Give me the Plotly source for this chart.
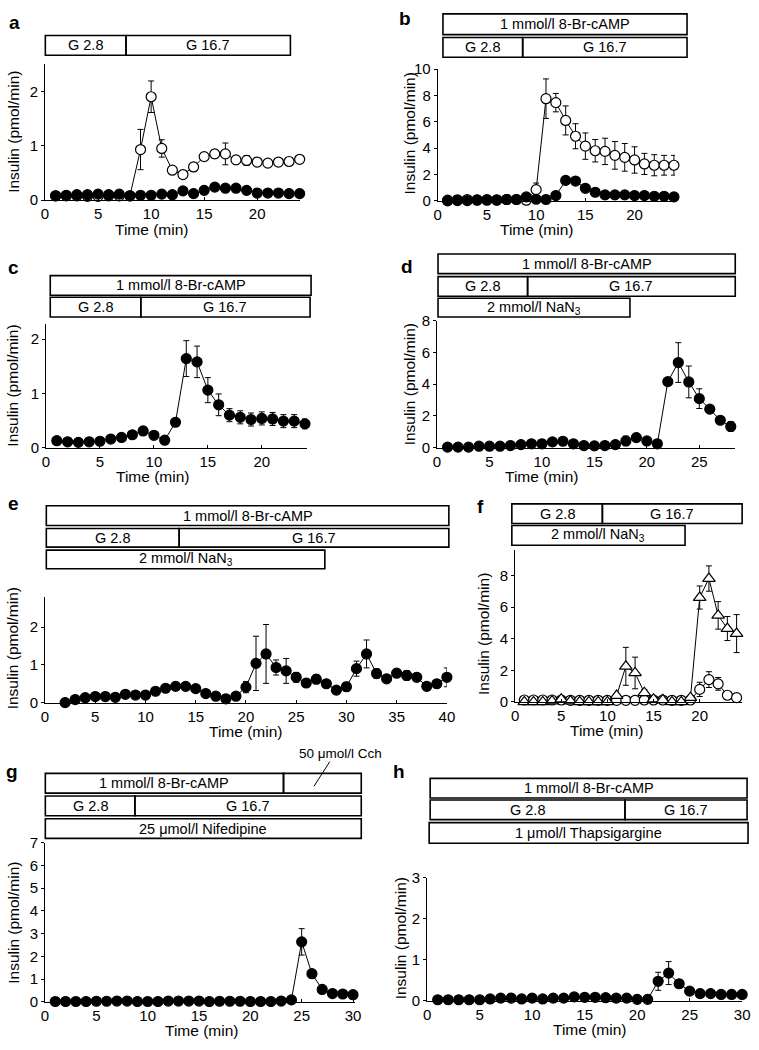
import plotly.graph_objects as go

W, H = 759, 1050
FONT = "Liberation Sans, Arial, Helvetica, sans-serif"

# ---------------- data ----------------
a_time = [1, 2, 3, 4, 5, 6, 7, 8, 9, 10, 11, 12, 13, 14, 15, 16, 17, 18, 19, 20, 21, 22, 23, 24]
a_open = [0.08, 0.08, 0.08, 0.07, 0.07, 0.08, 0.08, 0.08, 0.93, 1.90, 0.95, 0.55, 0.47, 0.61, 0.80, 0.85, 0.85, 0.74, 0.73, 0.70, 0.68, 0.70, 0.71, 0.75]
a_open_err = [0.01, 0.01, 0.01, 0.01, 0.01, 0.01, 0.01, 0.01, 0.37, 0.29, 0.16, 0.05, 0.04, 0.08, 0.06, 0.08, 0.20, 0.08, 0.09, 0.07, 0.05, 0.04, 0.03, 0.03]
a_filled = [0.08, 0.09, 0.10, 0.10, 0.11, 0.10, 0.11, 0.08, 0.09, 0.09, 0.11, 0.10, 0.17, 0.12, 0.18, 0.24, 0.22, 0.22, 0.18, 0.13, 0.13, 0.13, 0.12, 0.12]
a_filled_err = [0.02, 0.02, 0.02, 0.03, 0.03, 0.02, 0.02, 0.02, 0.02, 0.02, 0.02, 0.02, 0.03, 0.02, 0.05, 0.06, 0.06, 0.06, 0.03, 0.02, 0.02, 0.02, 0.02, 0.02]

b_time = [1, 2, 3, 4, 5, 6, 7, 8, 9, 10, 11, 12, 13, 14, 15, 16, 17, 18, 19, 20, 21, 22, 23, 24]
b_open = [0.05, 0.08, 0.10, 0.08, 0.10, 0.08, 0.10, 0.10, 0.05, 0.85, 7.75, 7.45, 6.10, 4.90, 4.15, 3.80, 3.75, 3.45, 3.30, 3.10, 2.80, 2.70, 2.70, 2.70]
b_open_err = [0.05, 0.05, 0.05, 0.05, 0.05, 0.05, 0.05, 0.05, 0.05, 0.50, 1.50, 0.70, 1.10, 0.95, 1.00, 0.85, 1.00, 1.05, 1.05, 1.00, 0.80, 0.80, 0.75, 0.75]
b_filled = [0.00, 0.02, 0.02, 0.05, 0.05, 0.05, 0.10, 0.10, 0.30, 0.12, 0.10, 0.40, 1.55, 1.50, 0.95, 0.65, 0.45, 0.45, 0.45, 0.40, 0.40, 0.35, 0.35, 0.30]
b_filled_err = [0.05, 0.05, 0.05, 0.05, 0.05, 0.05, 0.05, 0.05, 0.05, 0.05, 0.05, 0.05, 0.20, 0.20, 0.10, 0.05, 0.05, 0.05, 0.05, 0.05, 0.05, 0.05, 0.05, 0.05]

c_time = [1, 2, 3, 4, 5, 6, 7, 8, 9, 10, 11, 12, 13, 14, 15, 16, 17, 18, 19, 20, 21, 22, 23, 24]
c_filled = [0.13, 0.11, 0.10, 0.11, 0.12, 0.16, 0.19, 0.24, 0.31, 0.23, 0.14, 0.47, 1.64, 1.58, 1.06, 0.79, 0.60, 0.56, 0.52, 0.54, 0.53, 0.49, 0.49, 0.44]
c_filled_err = [0.02, 0.02, 0.02, 0.02, 0.02, 0.02, 0.03, 0.03, 0.07, 0.04, 0.03, 0.07, 0.33, 0.29, 0.23, 0.20, 0.12, 0.12, 0.12, 0.12, 0.12, 0.12, 0.12, 0.09]

d_time = [1, 2, 3, 4, 5, 6, 7, 8, 9, 10, 11, 12, 13, 14, 15, 16, 17, 18, 19, 20, 21, 22, 23, 24, 25, 26, 27, 28]
d_filled = [0.04, 0.04, 0.04, 0.10, 0.10, 0.10, 0.14, 0.20, 0.25, 0.25, 0.37, 0.41, 0.25, 0.14, 0.12, 0.14, 0.20, 0.43, 0.64, 0.43, 0.25, 4.16, 5.36, 4.14, 3.09, 2.43, 1.73, 1.34]
d_filled_err = [0.05, 0.05, 0.05, 0.05, 0.05, 0.05, 0.05, 0.05, 0.05, 0.05, 0.05, 0.05, 0.05, 0.05, 0.05, 0.05, 0.05, 0.30, 0.12, 0.05, 0.05, 0.15, 1.25, 1.00, 0.62, 0.10, 0.10, 0.30]

e_time = [2, 3, 4, 5, 6, 7, 8, 9, 10, 11, 12, 13, 14, 15, 16, 17, 18, 19, 20, 21, 22, 23, 24, 25, 26, 27, 28, 29, 30, 31, 32, 33, 34, 35, 36, 37, 38, 39, 40]
e_filled = [0.00, 0.08, 0.13, 0.16, 0.16, 0.14, 0.22, 0.20, 0.20, 0.30, 0.38, 0.43, 0.43, 0.37, 0.24, 0.17, 0.10, 0.17, 0.41, 1.04, 1.29, 0.93, 0.84, 0.67, 0.52, 0.62, 0.50, 0.33, 0.42, 0.90, 1.29, 0.77, 0.63, 0.78, 0.72, 0.67, 0.43, 0.50, 0.67]
e_filled_err = [0.02, 0.02, 0.03, 0.03, 0.03, 0.03, 0.03, 0.03, 0.03, 0.03, 0.03, 0.03, 0.03, 0.03, 0.03, 0.03, 0.03, 0.03, 0.15, 0.72, 0.78, 0.20, 0.33, 0.13, 0.10, 0.12, 0.05, 0.04, 0.12, 0.20, 0.37, 0.13, 0.05, 0.10, 0.13, 0.05, 0.05, 0.05, 0.25]

f_time = [1, 2, 3, 4, 5, 6, 7, 8, 9, 10, 11, 12, 13, 14, 15, 16, 17, 18, 19, 20, 21, 22, 23, 24]
f_triangle = [0.00, 0.00, 0.00, 0.05, 0.17, 0.05, 0.00, 0.00, 0.00, 0.00, 0.40, 2.25, 1.83, 0.58, 0.17, 0.13, 0.00, 0.00, 0.27, 6.60, 7.80, 5.47, 4.64, 4.32]
f_triangle_err = [0.03, 0.03, 0.03, 0.03, 0.15, 0.03, 0.03, 0.03, 0.03, 0.03, 0.10, 1.20, 1.00, 0.20, 0.10, 0.05, 0.03, 0.03, 0.10, 0.73, 0.80, 0.87, 0.76, 1.20]
f_open = [0.12, 0.12, 0.12, 0.12, 0.12, 0.10, 0.10, 0.10, 0.10, 0.10, 0.10, 0.10, 0.10, 0.12, 0.12, 0.12, 0.10, 0.10, 0.12, 0.79, 1.41, 1.14, 0.42, 0.27]
f_open_err = [0.03, 0.03, 0.03, 0.03, 0.03, 0.03, 0.03, 0.03, 0.03, 0.03, 0.03, 0.03, 0.03, 0.03, 0.03, 0.03, 0.03, 0.03, 0.03, 0.45, 0.50, 0.40, 0.05, 0.03]

g_time = [1, 2, 3, 4, 5, 6, 7, 8, 9, 10, 11, 12, 13, 14, 15, 16, 17, 18, 19, 20, 21, 22, 23, 24, 25, 26, 27, 28, 29, 30]
g_filled = [0.02, 0.02, 0.02, 0.02, 0.03, 0.03, 0.04, 0.04, 0.02, 0.02, 0.02, 0.04, 0.04, 0.04, 0.04, 0.02, 0.03, 0.03, 0.03, 0.02, 0.02, 0.02, 0.04, 0.09, 2.64, 1.24, 0.55, 0.37, 0.35, 0.32]
g_filled_err = [0.02, 0.02, 0.02, 0.02, 0.02, 0.02, 0.02, 0.02, 0.02, 0.02, 0.02, 0.02, 0.02, 0.02, 0.02, 0.02, 0.02, 0.02, 0.02, 0.02, 0.02, 0.02, 0.02, 0.03, 0.58, 0.05, 0.05, 0.05, 0.05, 0.05]

h_time = [1, 2, 3, 4, 5, 6, 7, 8, 9, 10, 11, 12, 13, 14, 15, 16, 17, 18, 19, 20, 21, 22, 23, 24, 25, 26, 27, 28, 29, 30]
h_filled = [0.03, 0.03, 0.03, 0.03, 0.03, 0.05, 0.07, 0.07, 0.05, 0.07, 0.05, 0.07, 0.07, 0.10, 0.09, 0.09, 0.08, 0.07, 0.07, 0.04, 0.04, 0.48, 0.68, 0.42, 0.24, 0.18, 0.18, 0.16, 0.16, 0.16]
h_filled_err = [0.02, 0.02, 0.02, 0.02, 0.02, 0.02, 0.02, 0.02, 0.02, 0.02, 0.02, 0.02, 0.02, 0.02, 0.02, 0.02, 0.02, 0.02, 0.02, 0.02, 0.02, 0.22, 0.28, 0.10, 0.03, 0.02, 0.02, 0.02, 0.02, 0.02]

# ---------------- helpers ----------------
def px(x):
    return x / W

def py(y):
    return 1 - y / H

TICK_FS = 15
TITLE_FS = 15.5
BOX_FS = 14.5

fig = go.Figure()
layout = dict(
    width=W, height=H, margin=dict(l=0, r=0, t=0, b=0),
    paper_bgcolor="white", plot_bgcolor="white", showlegend=False,
    font=dict(family=FONT, size=14, color="black"),
)
annotations = []
shapes = []

# panel geometry in pixels: x0 (time 0), x1 (axis end), yt (axis top), yb (value 0)
panels = {
    "a": dict(x0=41.7, x1=300.4, yt=56, yb=194.3, xr=[0, 24], yr=[0, 2.5], xt=[0, 5, 10, 15, 20], yt_vals=[0, 1, 2]),
    "b": dict(x0=440.7, x1=681.7, yt=61, yb=195, xr=[0, 24.1], yr=[0, 10], xt=[0, 5, 10, 15, 20], yt_vals=[0, 2, 4, 6, 8, 10]),
    "c": dict(x0=42.7, x1=308, yt=320, yb=446, xr=[0, 24.2], yr=[0, 2.28], xt=[0, 5, 10, 15, 20], yt_vals=[0, 1, 2]),
    "d": dict(x0=440, x1=742.7, yt=316.7, yb=446, xr=[0, 28.4], yr=[0, 8], xt=[0, 5, 10, 15, 20, 25], yt_vals=[0, 2, 4, 6, 8]),
    "e": dict(x0=41.7, x1=450, yt=597.3, yb=705, xr=[0, 40], yr=[0, 2.81], xt=[0, 5, 10, 15, 20, 25, 30, 35, 40], yt_vals=[0, 1, 2]),
    "f": dict(x0=519.3, x1=750, yt=550, yb=704.3, xr=[0, 24.6], yr=[0, 9.6], xt=[0, 5, 10, 15, 20], yt_vals=[0, 2, 4, 6, 8]),
    "g": dict(x0=41.7, x1=356.7, yt=847.3, yb=1009.3, xr=[0, 30.2], yr=[0, 7], xt=[0, 5, 10, 15, 20, 25, 30], yt_vals=[0, 1, 2, 3, 4, 5, 6, 7]),
    "h": dict(x0=430, x1=750, yt=883.3, yb=1008.3, xr=[0, 30], yr=[0, 3], xt=[0, 5, 10, 15, 20, 25, 30], yt_vals=[0, 1, 2, 3]),
}
order = ["a", "b", "c", "d", "e", "f", "g", "h"]
axis_id = {}
for i, k in enumerate(order, start=1):
    p = panels[k]
    xa = "xaxis" if i == 1 else f"xaxis{i}"
    ya = "yaxis" if i == 1 else f"yaxis{i}"
    xs = "x" if i == 1 else f"x{i}"
    ys = "y" if i == 1 else f"y{i}"
    axis_id[k] = (xs, ys)
    common = dict(showline=True, linecolor="black", linewidth=1, showgrid=False,
                  zeroline=False, tickcolor="black", ticklen=3, tickwidth=1,
                  tickfont=dict(family=FONT, size=TICK_FS, color="black"), fixedrange=True)
    layout[xa] = dict(common, domain=[px(p["x0"]), px(p["x1"])], range=p["xr"],
                      anchor=ys, tickvals=p["xt"], ticks="inside")
    layout[ya] = dict(common, domain=[py(p["yb"]), py(p["yt"])], range=p["yr"],
                      anchor=xs, tickvals=p["yt_vals"], ticks="outside")


def add_series(k, x, y, err, symbol, fill):
    xs, ys = axis_id[k]
    size = 11 if "triangle" in symbol else 10
    fig.add_trace(go.Scatter(
        x=x, y=y, xaxis=xs, yaxis=ys, mode="lines+markers", cliponaxis=False,
        line=dict(color="black", width=1),
        marker=dict(symbol=symbol, size=size, color=fill, line=dict(color="black", width=1.2)),
        error_y=dict(type="data", array=err, visible=True, color="black", thickness=1, width=3),
        hoverinfo="skip",
    ))


add_series("a", a_time, a_open, a_open_err, "circle", "white")
add_series("a", a_time, a_filled, a_filled_err, "circle", "black")
add_series("b", b_time, b_open, b_open_err, "circle", "white")
add_series("b", b_time, b_filled, b_filled_err, "circle", "black")
add_series("c", c_time, c_filled, c_filled_err, "circle", "black")
add_series("d", d_time, d_filled, d_filled_err, "circle", "black")
add_series("e", e_time, e_filled, e_filled_err, "circle", "black")
add_series("f", f_time, f_open, f_open_err, "circle", "white")
add_series("f", f_time, f_triangle, f_triangle_err, "triangle-up", "white")
add_series("g", g_time, g_filled, g_filled_err, "circle", "black")
add_series("h", h_time, h_filled, h_filled_err, "circle", "black")

xtitles = {"a": (150, 224), "b": (541, 224), "c": (151, 475), "d": (546, 475),
           "e": (245, 734), "f": (612, 733), "g": (201, 1038), "h": (595, 1037)}
ytitles = {"a": (10, 125), "b": (412, 126), "c": (9, 383), "d": (412, 381),
           "e": (9, 650), "f": (487, 635), "g": (10, 929), "h": (403, 945)}
for k in order:
    x, y = xtitles[k]
    annotations.append(dict(text="Time (min)", x=px(x), y=py(y), xref="paper", yref="paper",
                            showarrow=False, xanchor="center", yanchor="middle",
                            font=dict(family=FONT, size=TITLE_FS, color="black")))
    x, y = ytitles[k]
    annotations.append(dict(text="Insulin (pmol/min)", x=px(x), y=py(y), xref="paper", yref="paper",
                            showarrow=False, xanchor="center", yanchor="middle", textangle=-90,
                            font=dict(family=FONT, size=TITLE_FS, color="black")))

letters = {"a": (11, 14), "b": (407, 10), "c": (10, 263), "d": (409, 262),
           "e": (10, 503), "f": (484, 506), "g": (8, 775), "h": (401, 775)}
for k, (x, y) in letters.items():
    annotations.append(dict(text=f"<b>{k}</b>", x=px(x), y=py(y), xref="paper", yref="paper",
                            showarrow=False, xanchor="center", yanchor="middle",
                            font=dict(family=FONT, size=19, color="black")))

CAMP = "1 mmol/l 8-Br-cAMP"
NAN3 = "2 mmol/l NaN<sub>3</sub>"
boxes = [
    (42, 124, 27, 47, "G 2.8"), (124, 291, 27, 47, "G 16.7"),
    (446, 694, 5, 26, CAMP), (446, 527, 29, 49, "G 2.8"), (527, 694, 29, 49, "G 16.7"),
    (47, 312, 271, 291, CAMP), (47, 139, 293, 313, "G 2.8"), (139, 311, 293, 313, "G 16.7"),
    (441, 743, 249, 269, CAMP), (441, 532, 272, 292, "G 2.8"), (532, 743, 272, 292, "G 16.7"),
    (441, 636, 294, 313, NAN3),
    (43, 452, 505, 525, CAMP), (43, 178, 528, 547, "G 2.8"), (178, 452, 528, 547, "G 16.7"),
    (43, 326, 550, 569, NAN3),
    (516, 608, 503, 523, "G 2.8"), (608, 750, 503, 523, "G 16.7"), (516, 692, 525, 545, NAN3),
    (42, 284, 777, 797, CAMP), (284, 363, 777, 797, ""), (42, 133, 800, 820, "G 2.8"),
    (133, 363, 800, 820, "G 16.7"), (42, 363, 823, 843, "25 μmol/l Nifedipine"),
    (433, 755, 782, 802, CAMP), (433, 631, 804, 824, "G 2.8"), (631, 755, 804, 824, "G 16.7"),
    (432, 756, 827, 848, "1 μmol/l Thapsigargine"),
]
for x0, x1, y0, y1, t in boxes:
    shapes.append(dict(type="rect", xref="paper", yref="paper", x0=px(x0), x1=px(x1),
                       y0=py(y1), y1=py(y0), line=dict(color="black", width=1.6),
                       fillcolor="rgba(0,0,0,0)"))
    if t:
        annotations.append(dict(text=t, x=px((x0 + x1) / 2), y=py((y0 + y1) / 2),
                                xref="paper", yref="paper", showarrow=False,
                                xanchor="center", yanchor="middle",
                                font=dict(family=FONT, size=BOX_FS, color="black")))

annotations.append(dict(text="50 μmol/l Cch", x=px(342), y=py(757), xref="paper", yref="paper",
                        showarrow=False, xanchor="center", yanchor="middle",
                        font=dict(family=FONT, size=13.5, color="black")))
shapes.append(dict(type="line", xref="paper", yref="paper", x0=px(315), y0=py(790),
                   x1=px(331), y1=py(765), line=dict(color="black", width=1)))

layout["annotations"] = annotations
layout["shapes"] = shapes
layout["hovermode"] = False
fig.update_layout(**layout)

page_script = (
    "document.documentElement.style.margin='0px';"
    "document.documentElement.style.padding='0px';"
    "document.documentElement.style.overflow='hidden';"
    "document.body.style.margin='0px';"
    "document.body.style.padding='0px';"
    "document.body.style.overflow='hidden';"
)
fig.write_html("out.html", config={"displayModeBar": False, "staticPlot": True},
               post_script=page_script)
